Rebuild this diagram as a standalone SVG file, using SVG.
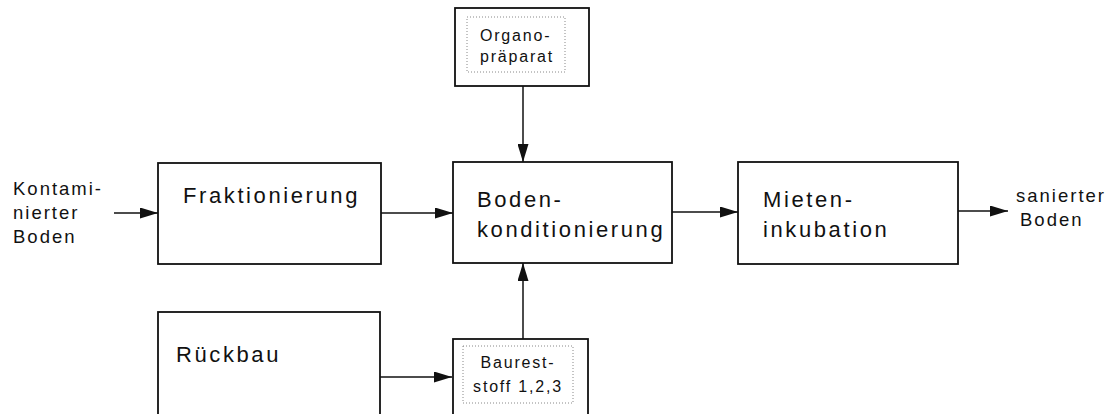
<svg xmlns="http://www.w3.org/2000/svg" width="1116" height="414" viewBox="0 0 1116 414">
<style>
.box{fill:#fff;stroke:#111;stroke-width:1.8}
.inner{fill:none;stroke:#888;stroke-width:1;stroke-dasharray:1 2}
.big{font-family:"Liberation Sans",Arial,sans-serif;font-size:22px;letter-spacing:2.6px;fill:#111}
.mid{font-family:"Liberation Sans",Arial,sans-serif;font-size:18.5px;letter-spacing:2px;fill:#111}
.sm{font-family:"Liberation Sans",Arial,sans-serif;font-size:16px;letter-spacing:1.8px;fill:#111}
.edge{stroke:#111;stroke-width:1.5;fill:none;marker-end:url(#ah)}
</style>
<defs>
<marker id="ah" viewBox="0 0 18 11" refX="18" refY="5.5" markerWidth="18" markerHeight="11" markerUnits="userSpaceOnUse" orient="auto">
<path d="M0,0 L18,5.5 L0,11 Z" fill="#111"/>
</marker>
</defs>
<rect width="1116" height="414" fill="#fff"/>
<g id="connectors">
<line class="edge" x1="114" y1="213" x2="158" y2="213"/>
<line class="edge" x1="381" y1="213" x2="453" y2="213"/>
<line class="edge" x1="523" y1="86" x2="523" y2="162"/>
<line class="edge" x1="523" y1="339" x2="523" y2="263"/>
<line class="edge" x1="672" y1="212" x2="738" y2="212"/>
<line class="edge" x1="958" y1="211" x2="1008" y2="211"/>
<line class="edge" x1="380" y1="377" x2="452" y2="377"/>
</g>
<g id="input">
<text class="mid" x="13" y="195">Kontami-</text>
<text class="mid" x="13" y="219">nierter</text>
<text class="mid" x="13" y="243">Boden</text>
</g>
<g id="fraktionierung">
<rect class="box" x="158" y="163" width="223" height="101"/>
<text class="big" x="183" y="203">Fraktionierung</text>
</g>
<g id="organopraeparat">
<rect class="box" x="455" y="8" width="134" height="78"/>
<rect class="inner" x="467" y="17" width="98" height="55"/>
<text class="sm" x="480" y="41">Organo-</text>
<text class="sm" x="480" y="62">präparat</text>
</g>
<g id="bodenkonditionierung">
<rect class="box" x="453" y="162" width="219" height="101"/>
<text class="big" x="477" y="207">Boden-</text>
<text class="big" x="477" y="237">konditionierung</text>
</g>
<g id="mieteninkubation">
<rect class="box" x="738" y="162" width="220" height="102"/>
<text class="big" x="763" y="207">Mieten-</text>
<text class="big" x="763" y="237">inkubation</text>
</g>
<g id="output">
<text class="mid" x="1016" y="202">sanierter</text>
<text class="mid" x="1020" y="226">Boden</text>
</g>
<g id="rueckbau">
<rect class="box" x="158" y="312" width="222" height="110"/>
<text class="big" x="176" y="362">Rückbau</text>
</g>
<g id="baureststoff">
<rect class="box" x="453" y="339" width="135" height="90"/>
<rect class="inner" x="463" y="346" width="110" height="57"/>
<text class="sm" x="518" y="368" text-anchor="middle">Baurest-</text>
<text class="sm" x="518" y="392" text-anchor="middle">stoff 1,2,3</text>
</g>
</svg>
